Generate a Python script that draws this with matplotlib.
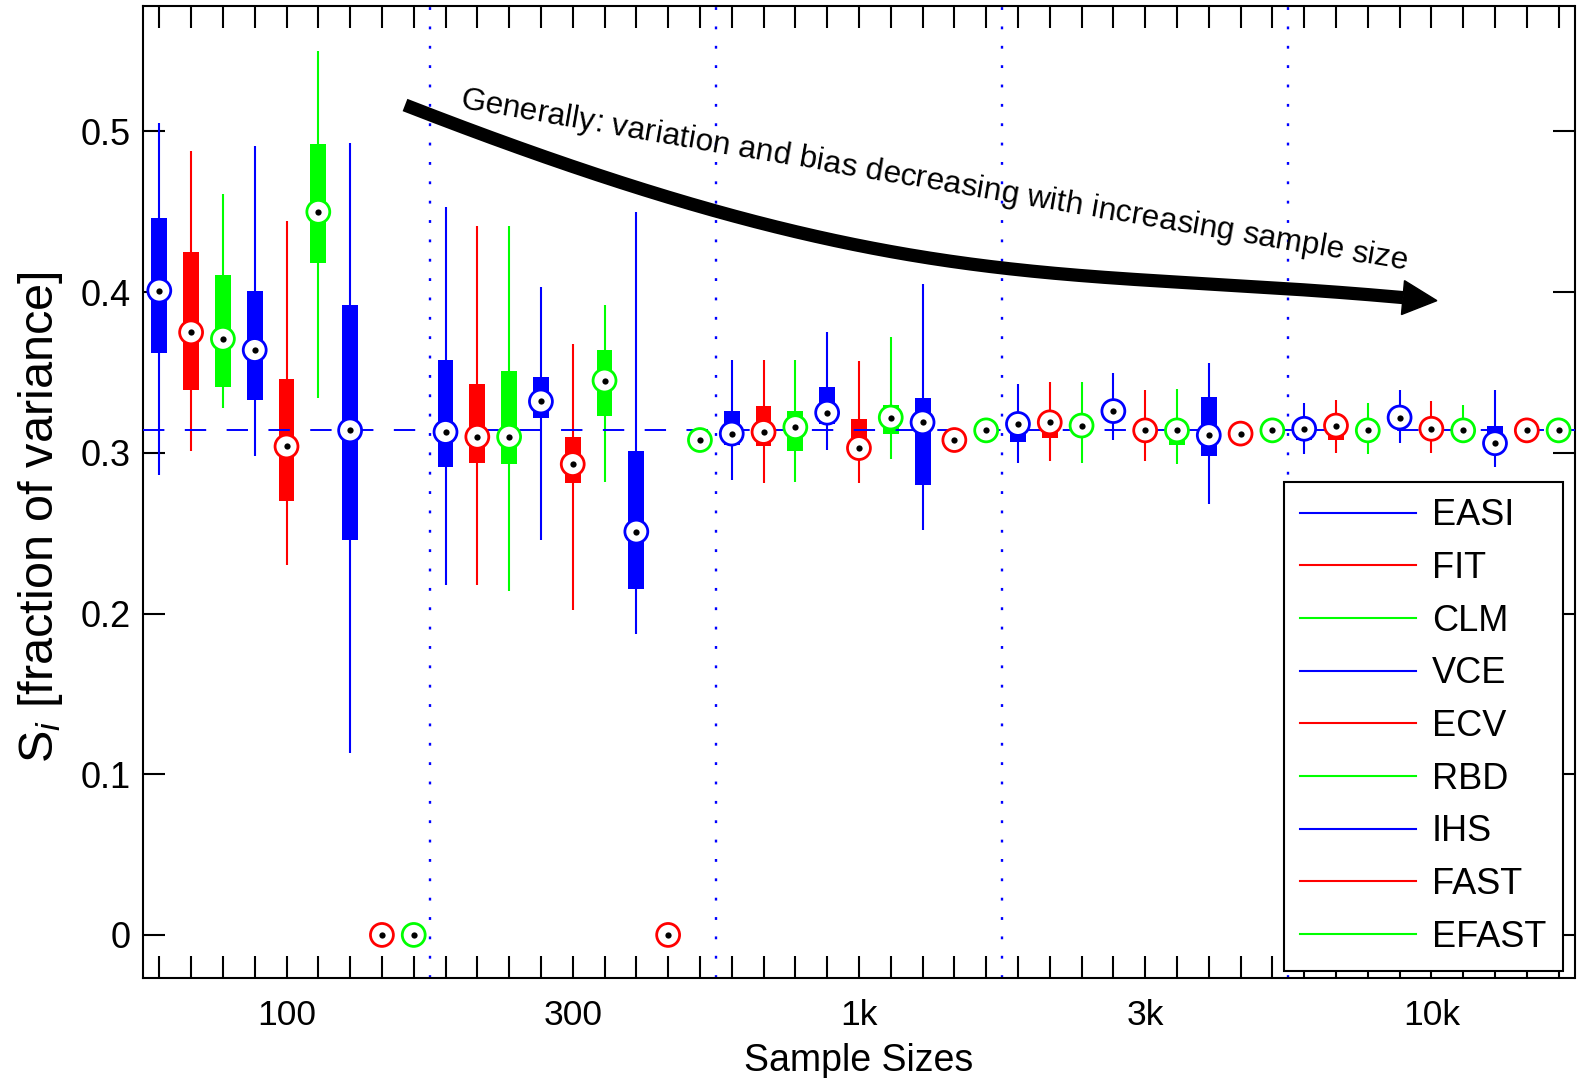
"""
Sensitivity index estimates per method and sample size (box plots)
"""
import numpy as np
import matplotlib.pyplot as plt
from matplotlib.lines import Line2D
from matplotlib.patches import Polygon
from matplotlib.font_manager import FontProperties, findfont, get_font
from math import comb

plt.rcParams['font.family'] = ['Liberation Sans', 'DejaVu Sans']
plt.rcParams['mathtext.fontset'] = 'custom'
plt.rcParams['mathtext.rm'] = 'Liberation Sans'
plt.rcParams['mathtext.it'] = 'Liberation Sans:italic'

methods = ['EASI', 'FIT', 'CLM', 'VCE', 'ECV', 'RBD', 'IHS', 'FAST', 'EFAST']
method_colors = ['#0000ff', '#ff0000', '#00ff00'] * 3
sample_sizes = ['100', '300', '1k', '3k', '10k']
true_si = 0.3143
nan = np.nan

# one entry per (sample size, method), methods in legend order
whisker_hi = [0.505, 0.488, 0.461, 0.491, 0.444, 0.550, 0.493, nan, nan,
              0.453, 0.441, 0.441, 0.403, 0.368, 0.392, 0.450, nan, nan,
              0.358, 0.358, 0.358, 0.375, 0.357, 0.372, 0.405, nan, nan,
              0.343, 0.344, 0.344, 0.350, 0.339, 0.340, 0.356, nan, nan,
              0.331, 0.333, 0.331, 0.339, 0.332, 0.330, 0.339, nan, nan]
box_hi = [0.446, 0.425, 0.411, 0.401, 0.346, 0.492, 0.392, nan, nan,
          0.358, 0.343, 0.351, 0.347, 0.310, 0.364, 0.301, nan, nan,
          0.326, 0.329, 0.326, 0.341, 0.321, 0.330, 0.334, nan, nan,
          0.320, 0.320, 0.318, 0.330, 0.318, 0.318, 0.335, nan, nan,
          0.318, 0.318, 0.317, 0.324, 0.318, 0.317, 0.317, nan, nan]
medians = [0.401, 0.375, 0.371, 0.364, 0.304, 0.450, 0.314, 0.0, 0.0,
           0.313, 0.310, 0.310, 0.332, 0.293, 0.345, 0.251, 0.0, 0.308,
           0.312, 0.313, 0.316, 0.325, 0.303, 0.322, 0.319, 0.308, 0.314,
           0.318, 0.319, 0.317, 0.326, 0.314, 0.314, 0.311, 0.312, 0.314,
           0.315, 0.317, 0.314, 0.322, 0.315, 0.314, 0.306, 0.314, 0.314]
box_lo = [0.362, 0.339, 0.341, 0.333, 0.270, 0.418, 0.246, nan, nan,
          0.291, 0.294, 0.293, 0.322, 0.281, 0.323, 0.215, nan, nan,
          0.305, 0.304, 0.301, 0.318, 0.300, 0.312, 0.280, nan, nan,
          0.307, 0.309, 0.312, 0.320, 0.309, 0.305, 0.298, nan, nan,
          0.308, 0.308, 0.312, 0.318, 0.311, 0.311, 0.304, nan, nan]
whisker_lo = [0.286, 0.301, 0.328, 0.298, 0.230, 0.334, 0.113, nan, nan,
              0.218, 0.218, 0.214, 0.246, 0.202, 0.282, 0.187, nan, nan,
              0.283, 0.281, 0.282, 0.302, 0.281, 0.296, 0.252, nan, nan,
              0.294, 0.295, 0.294, 0.308, 0.295, 0.293, 0.268, nan, nan,
              0.299, 0.300, 0.299, 0.306, 0.300, 0.311, 0.291, nan, nan]

note = 'Generally: variation and bias decreasing with increasing sample size'

W, H = 1580, 1078
n_m = len(methods)
pos = np.arange(1, len(medians) + 1)
cols = np.array([method_colors[i % n_m] for i in range(len(pos))])
whi, bhi, med = np.array(whisker_hi), np.array(box_hi), np.array(medians)
blo, wlo = np.array(box_lo), np.array(whisker_lo)
has_box = ~np.isnan(bhi)

fig = plt.figure(figsize=(W / 100, H / 100), dpi=100)
ax = fig.add_axes([143.4 / W, 1 - 978 / H, 1431.1 / W, 972 / H])

ax.vlines(pos[has_box], wlo[has_box], whi[has_box], colors=cols[has_box],
          lw=1.5, zorder=2)
ax.bar(pos[has_box], bhi[has_box] - blo[has_box], bottom=blo[has_box],
       width=0.5, color=cols[has_box], zorder=2.5)
ax.axhline(true_si, color='#0000ff', lw=1.4, dashes=(11, 10.5), zorder=3)
for k in range(1, len(sample_sizes)):
    ax.axvline(k * n_m + 0.5, color='#0000ff', lw=1.7,
               linestyle=(0, (1.2, 7)), zorder=1)
ax.scatter(pos, med, s=16.5 ** 2, facecolors='white', edgecolors=cols,
           linewidths=2.0, zorder=4)
ax.scatter(pos, med, s=4.5 ** 2, c='black', linewidths=0, zorder=5)

ax.set_xlim(0.5, len(pos) + 0.5)
ax.set_ylim(-0.0268, 0.5781)
xlabels = [''] * len(pos)
for k, s in enumerate(sample_sizes):
    xlabels[k * n_m + n_m // 2] = s
ax.set_xticks(pos)
ax.set_xticklabels(xlabels)
yt = [0, 0.1, 0.2, 0.3, 0.4, 0.5]
ax.set_yticks(yt)
ax.set_yticklabels(['0', '0.1', '0.2', '0.3', '0.4', '0.5'])
ax.tick_params(direction='in', length=16, width=1.5, top=True, right=True)
ax.tick_params(axis='x', labelsize=25.5, pad=15)
ax.tick_params(axis='y', labelsize=26, pad=9)
for sp in ax.spines.values():
    sp.set_linewidth(1.5)

ax.set_xlabel('Sample Sizes', fontsize=27, va='top')
ax.xaxis.set_label_coords(0.5, -0.067)
fig.text(41 / W, 1 - 517 / H, r'$\mathrm{S}_{i}$ [fraction of variance]',
         rotation=90, ha='center', va='center', fontsize=35)

handles = [Line2D([], [], color=method_colors[i], lw=1.5) for i in range(n_m)]
leg = ax.legend(handles, methods, loc='upper left',
                bbox_to_anchor=(1284 / W, 1 - 482 / H),
                bbox_transform=fig.transFigure, borderaxespad=0,
                fontsize=26, handlelength=3.2, handletextpad=0.45,
                labelspacing=0.49, borderpad=0.45, fancybox=False,
                framealpha=1, edgecolor='black')
leg.get_frame().set_linewidth(1.5)
leg.set_zorder(6)


def to_fig(px, py):
    return np.asarray(px) / W, 1 - np.asarray(py) / H


def bezier(ctrl, t):
    ctrl = np.asarray(ctrl, dtype=float)
    m = len(ctrl) - 1
    out = np.zeros((len(t), 2))
    for k, c in enumerate(ctrl):
        out += (comb(m, k) * (1 - t) ** (m - k) * t ** k)[:, None] * c
    return out


# arrow: smooth bend, steep at left and flattening out to the right
arrow_ctrl = [(405, 105), (905, 300), (1053, 266.1), (1403, 297.6)]
path = bezier(arrow_ctrl, np.linspace(0, 1, 300))
fx, fy = to_fig(path[:, 0], path[:, 1])
fig.add_artist(Line2D(fx, fy, transform=fig.transFigure, lw=9.5,
                      color='black', solid_capstyle='butt', zorder=7))
p2, p3 = np.array(arrow_ctrl[2]), np.array(arrow_ctrl[3])
d = (p3 - p2) / np.hypot(*(p3 - p2))
nrm = np.array([-d[1], d[0]])
head = np.array([p3 + nrm * 17, p3 + d * 34, p3 - nrm * 17])
hx, hy = to_fig(head[:, 0], head[:, 1])
fig.add_artist(Polygon(np.column_stack([hx, hy]), closed=True,
                       transform=fig.transFigure, color='black', zorder=7))

# text set along a gently curved baseline, sized to span it
q0, q2, qm = np.array([459, 108]), np.array([1406, 270]), np.array([865, 178])
q1 = 2 * qm - (q0 + q2) / 2
base = bezier([q0, q1, q2], np.linspace(0, 1, 2000))
seg = np.hypot(*np.diff(base, axis=0).T)
arc = np.concatenate([[0], np.cumsum(seg)])
font = get_font(findfont(FontProperties(family='Liberation Sans')))
font.set_size(20, 100)
adv = np.array([font.load_char(ord(ch)).linearHoriAdvance / 65536
                for ch in note])
fs = 20 * arc[-1] / adv.sum()
adv = adv * fs / 20
starts = np.concatenate([[0], np.cumsum(adv)[:-1]])
for ch, s0, w in zip(note, starts, adv):
    if ch == ' ':
        continue
    sc = s0 + w / 2
    bx = np.interp(sc, arc, base[:, 0])
    by = np.interp(sc, arc, base[:, 1])
    i = min(np.searchsorted(arc, sc), len(seg) - 1)
    dx, dy = base[i + 1] - base[i]
    ang = -np.degrees(np.arctan2(dy, dx))
    tx, ty = to_fig(bx, by)
    fig.text(tx, ty, ch, fontsize=fs, family='Liberation Sans',
             rotation=ang, rotation_mode='anchor', ha='center', va='baseline',
             zorder=8)

fig.savefig('out.png', dpi=100)
